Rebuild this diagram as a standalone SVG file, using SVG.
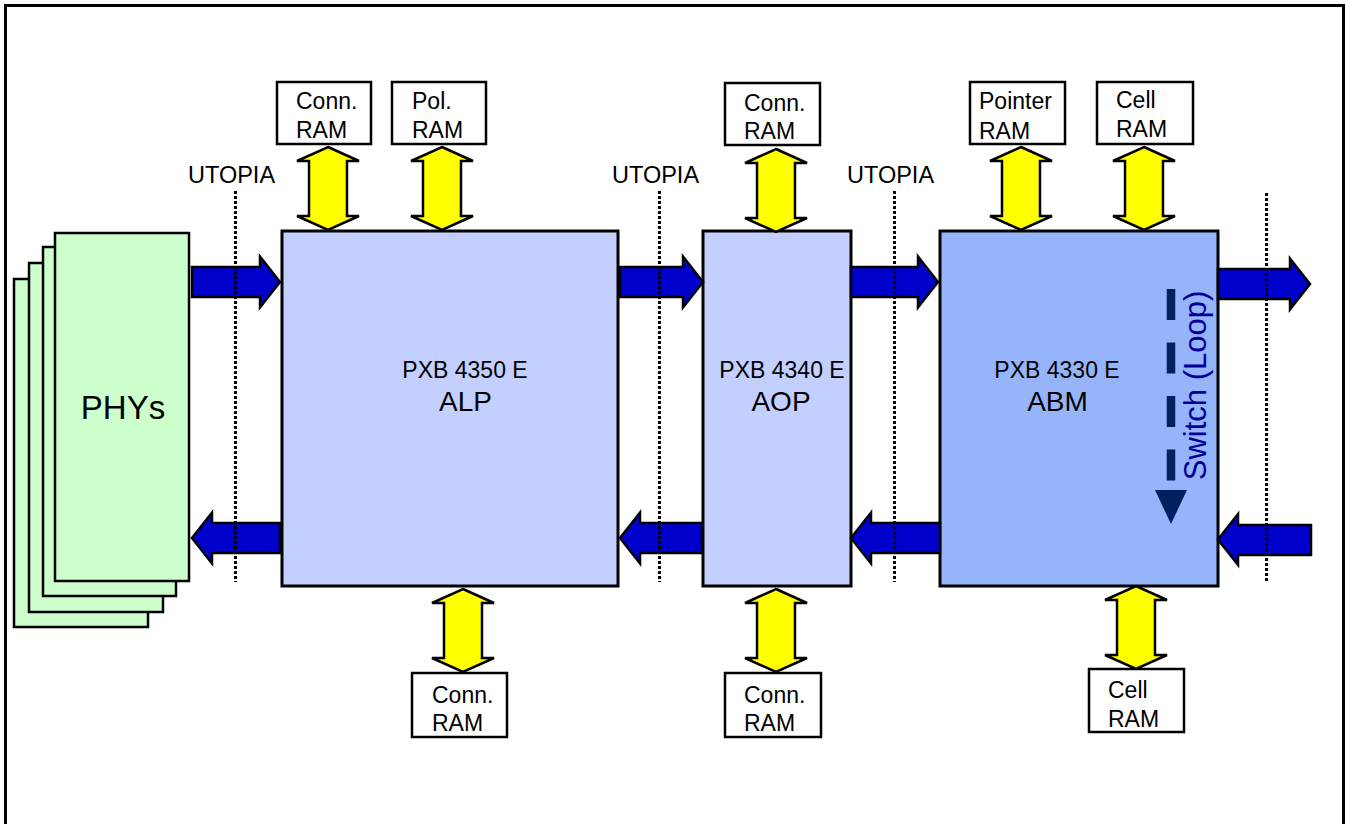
<svg xmlns="http://www.w3.org/2000/svg" width="1346" height="824" viewBox="0 0 1346 824">
<style>
text{font-family:"Liberation Sans",Arial,sans-serif;fill:#000}
.ram{fill:#fff;stroke:#000;stroke-width:2.5}
.chip{stroke:#000;stroke-width:3}
.phy{fill:#CCFFCC;stroke:#000;stroke-width:2.5}
.t23{font-size:23px}
.yel{fill:#FFFF00;stroke:#000;stroke-width:2.5;stroke-linejoin:miter}
.blu{fill:#0000CC;stroke:#000;stroke-width:2.5;stroke-linejoin:miter}
.dot{stroke:#000;stroke-width:3;stroke-dasharray:3 2;fill:none}
</style>
<defs>
<path id="ya" class="yel" d="M0,0 L31,14 L19,14 L19,69 L31,69 L0,83 L-31,69 L-19,69 L-19,14 L-31,14 Z"/>
</defs>
<rect x="5.5" y="5.5" width="1338" height="830" fill="#fff" stroke="#000" stroke-width="3"/>

<g id="phys">
<rect class="phy" x="14" y="279" width="134" height="348"/>
<rect class="phy" x="29" y="263" width="134" height="349"/>
<rect class="phy" x="43" y="247" width="133" height="349"/>
<rect class="phy" x="55" y="233" width="134" height="348"/>
<text x="123" y="419" font-size="33" text-anchor="middle">PHYs</text>
</g>

<g id="alp">
<rect class="chip" x="282" y="231" width="336" height="355" fill="#C3CFFF"/>
<text class="t23" x="465" y="378" text-anchor="middle">PXB 4350 E</text>
<text x="465.5" y="411" font-size="28" text-anchor="middle">ALP</text>
</g>
<g id="aop">
<rect class="chip" x="703" y="231" width="148" height="355" fill="#C3CFFF"/>
<text class="t23" x="782" y="378" text-anchor="middle">PXB 4340 E</text>
<text x="781" y="411" font-size="28" text-anchor="middle">AOP</text>
</g>
<g id="abm">
<rect class="chip" x="940" y="231" width="278" height="355" fill="#96B4FA"/>
<text class="t23" x="1057" y="378" text-anchor="middle">PXB 4330 E</text>
<text x="1057.5" y="411" font-size="28" text-anchor="middle">ABM</text>
<line x1="1171" y1="289" x2="1171" y2="481" stroke="#002060" stroke-width="8.5" stroke-dasharray="31 22.5"/>
<polygon points="1155,490 1187,490 1171,524" fill="#002060"/>
<text transform="translate(1206,385.5) rotate(-90)" font-size="31" text-anchor="middle" style="fill:#000099">Switch (Loop)</text>
</g>

<g id="ram-alp-conn">
<rect class="ram" x="277" y="82" width="94" height="62"/>
<text class="t23" x="296" y="109">Conn.</text><text class="t23" x="296" y="138">RAM</text>
</g>
<g id="ram-alp-pol">
<rect class="ram" x="392" y="82" width="94" height="62"/>
<text class="t23" x="412" y="109">Pol.</text><text class="t23" x="412" y="138">RAM</text>
</g>
<g id="ram-aop-conn">
<rect class="ram" x="725" y="83" width="95" height="62"/>
<text class="t23" x="744" y="111">Conn.</text><text class="t23" x="744" y="139">RAM</text>
</g>
<g id="ram-abm-pointer">
<rect class="ram" x="970" y="82" width="95" height="62"/>
<text class="t23" x="979" y="109">Pointer</text><text class="t23" x="979" y="139">RAM</text>
</g>
<g id="ram-abm-cell">
<rect class="ram" x="1097" y="82" width="96" height="62"/>
<text class="t23" x="1116" y="108">Cell</text><text class="t23" x="1116" y="137">RAM</text>
</g>
<g id="ram-alp-conn2">
<rect class="ram" x="412" y="673" width="95" height="64"/>
<text class="t23" x="432" y="703">Conn.</text><text class="t23" x="432" y="731">RAM</text>
</g>
<g id="ram-aop-conn2">
<rect class="ram" x="725" y="673" width="96" height="64"/>
<text class="t23" x="744" y="703">Conn.</text><text class="t23" x="744" y="731">RAM</text>
</g>
<g id="ram-abm-cell2">
<rect class="ram" x="1089" y="669" width="95" height="63"/>
<text class="t23" x="1108" y="698">Cell</text><text class="t23" x="1108" y="727">RAM</text>
</g>

<g id="labels">
<text x="188" y="183" font-size="23.5">UTOPIA</text>
<text x="612" y="183" font-size="23.5">UTOPIA</text>
<text x="847" y="183" font-size="23.5">UTOPIA</text>
</g>

<g id="connectors">
<use href="#ya" x="328" y="147"/>
<use href="#ya" x="442" y="147"/>
<use href="#ya" x="776" y="149"/>
<use href="#ya" x="1021" y="147"/>
<use href="#ya" x="1144" y="147"/>
<use href="#ya" x="463" y="589"/>
<use href="#ya" x="776" y="589"/>
<use href="#ya" x="1136" y="586"/>

<path class="blu" d="M192,267 H260 V256.5 L280,282 L260,307.5 V297 H192 Z"/>
<path class="blu" d="M620,267 H683 V256.5 L703,282 L683,307.5 V297 H620 Z"/>
<path class="blu" d="M851,267 H918 V256.5 L938,282 L918,307.5 V297 H851 Z"/>
<path class="blu" d="M1218,269 H1290 V258.5 L1310,284 L1290,309.5 V299 H1218 Z"/>

<path class="blu" d="M280,523 H212 V512.5 L192,538 L212,563.5 V553 H280 Z"/>
<path class="blu" d="M702,523 H640 V512.5 L620,538 L640,563.5 V553 H702 Z"/>
<path class="blu" d="M940,523 H871 V512.5 L851,538 L871,563.5 V553 H940 Z"/>
<path class="blu" d="M1311,525 H1238 V514 L1218,539.5 L1238,565 V555 H1311 Z"/>

<line class="dot" x1="235.5" y1="191" x2="235.5" y2="582"/>
<line class="dot" x1="659.5" y1="191" x2="659.5" y2="582"/>
<line class="dot" x1="894.5" y1="191" x2="894.5" y2="582"/>
<line class="dot" x1="1266.5" y1="193" x2="1266.5" y2="583"/>
</g>
</svg>
